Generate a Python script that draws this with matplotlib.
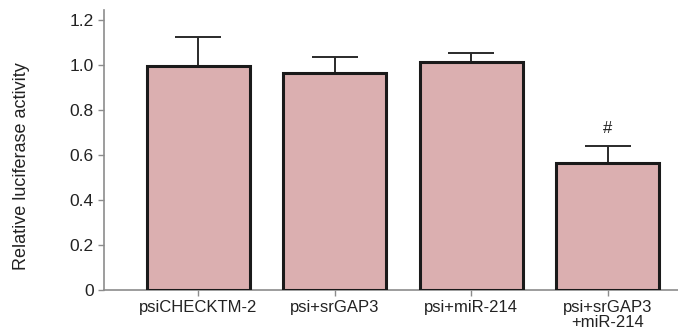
import numpy as np
import matplotlib.pyplot as plt
from matplotlib import rcParams
rcParams['font.family'] = ['Liberation Sans', 'DejaVu Sans']

groups = ['psiCHECKTM-2', 'psi+srGAP3', 'psi+miR-214', 'psi+srGAP3\n+miR-214']
means = [0.997, 0.966, 1.012, 0.566]
errors = [0.126, 0.071, 0.043, 0.075]
marks = ['', '', '', '#']

fig = plt.figure(figsize=(6.78, 3.35), dpi=100)
ax = fig.add_axes([0.1534, 0.1343, 0.8466, 0.8358])

x = np.arange(len(groups))
ax.bar(x, means, width=0.755, color='#dbafb0', edgecolor='#1a1a1a',
       linewidth=2.2, zorder=3)
ax.errorbar(x, means, yerr=[np.zeros(len(errors)), errors], fmt='none',
            ecolor='#2a2a2a', elinewidth=1.4, capsize=16.5, capthick=1.4, zorder=2)

for xi, m, e, s in zip(x, means, errors, marks):
    if s:
        ax.text(xi, m + e + 0.045, s, ha='center', va='bottom', fontsize=12, color='#222222')

ax.set_xlim(-0.689, 3.516)
ax.set_ylim(0, 1.244)
ax.set_yticks([0, 0.2, 0.4, 0.6, 0.8, 1.0, 1.2])
ax.set_yticklabels(['0', '0.2', '0.4', '0.6', '0.8', '1.0', '1.2'])
ax.set_xticks(x)
ax.set_xticklabels(groups, linespacing=1.05)
ax.set_ylabel('Relative luciferase activity', fontsize=13, color='#222222')
ax.yaxis.set_label_coords(-0.129, 0.443)

for side in ['top', 'right']:
    ax.spines[side].set_visible(False)
for side in ['left', 'bottom']:
    ax.spines[side].set_color('#8c8c8c')
    ax.spines[side].set_linewidth(1.2)
ax.tick_params(axis='both', colors='#8c8c8c', labelcolor='#222222', labelsize=12,
               width=1.0, length=4)
ax.tick_params(axis='y', labelsize=12.5)
ax.tick_params(axis='x', pad=3)

fig.savefig('out.png', dpi=100)
